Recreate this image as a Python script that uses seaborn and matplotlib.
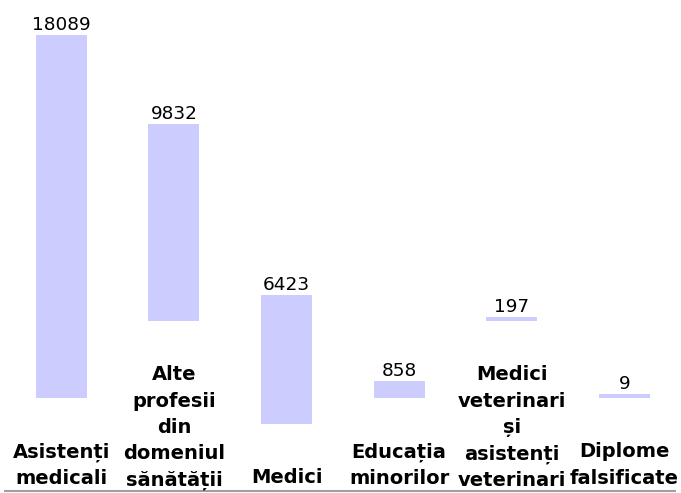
import numpy as np
import pandas as pd
import matplotlib
matplotlib.use("Agg")
import matplotlib.pyplot as plt
from matplotlib.transforms import Bbox, TransformedBbox
import seaborn as sns

# data
categories = ["Asistenți medicali", "Alte profesii din domeniul sănătății", "Medici",
              "Educația minorilor", "Medici veterinari și asistenți veterinari",
              "Diplome falsificate"]
values = [18089, 9832, 6423, 858, 197, 9]

sns.set_style("white")
plt.rcParams['font.family'] = ['DejaVu Sans']

W, H = 681, 493
fig = plt.figure(figsize=(W / 100, H / 100), dpi=100)
ax = fig.add_axes([5 / W, 2 / H, 670 / W, 491 / H])

ymax = 24450
px = ymax / 491  # value units per pixel

# each bar sits on top of its wrapped label (one word per line)
n_lines = np.array([len(c.split()) for c in categories])
bottoms = (67 + (n_lines - 1) * 25.7) * px
heights = np.maximum(values, 4 * px)  # tiny values still get a visible sliver

df = pd.DataFrame({"categorie": categories, "valoare": heights})
sns.barplot(data=df, x="categorie", y="valoare", order=categories, color="#ccccff",
            saturation=1, width=0.453, errorbar=None, bottom=bottoms,
            linewidth=0, ax=ax)

# labels get cut off at the baseline, but not at the sides
clip = TransformedBbox(Bbox([[0, 2 / H], [1, 1]]), fig.transFigure)

for i, (v, b, h) in enumerate(zip(values, bottoms, heights)):
    ax.annotate(str(v), (i, b + h), xytext=(0, 3.6), textcoords='offset points',
                ha='center', va='baseline', fontsize=13.3, color='black')
    t = ax.text(i, b - 44 * px, "\n".join(categories[i].split()), ha='center', va='top',
                multialignment='center', fontweight='bold', fontsize=14,
                linespacing=1.488, color='black')
    t.set_clip_box(clip)
    t.set_clip_on(True)

ax.set_xlim(-0.5, 5.45)
ax.set_ylim(0, ymax)
ax.set_xticks([])
ax.set_yticks([])
ax.set_xlabel('')
ax.set_ylabel('')
for s in ['top', 'left', 'right']:
    ax.spines[s].set_visible(False)
ax.spines['bottom'].set_color('#a0a0a0')
ax.spines['bottom'].set_linewidth(1.5)

fig.savefig("out.png", dpi=100)
